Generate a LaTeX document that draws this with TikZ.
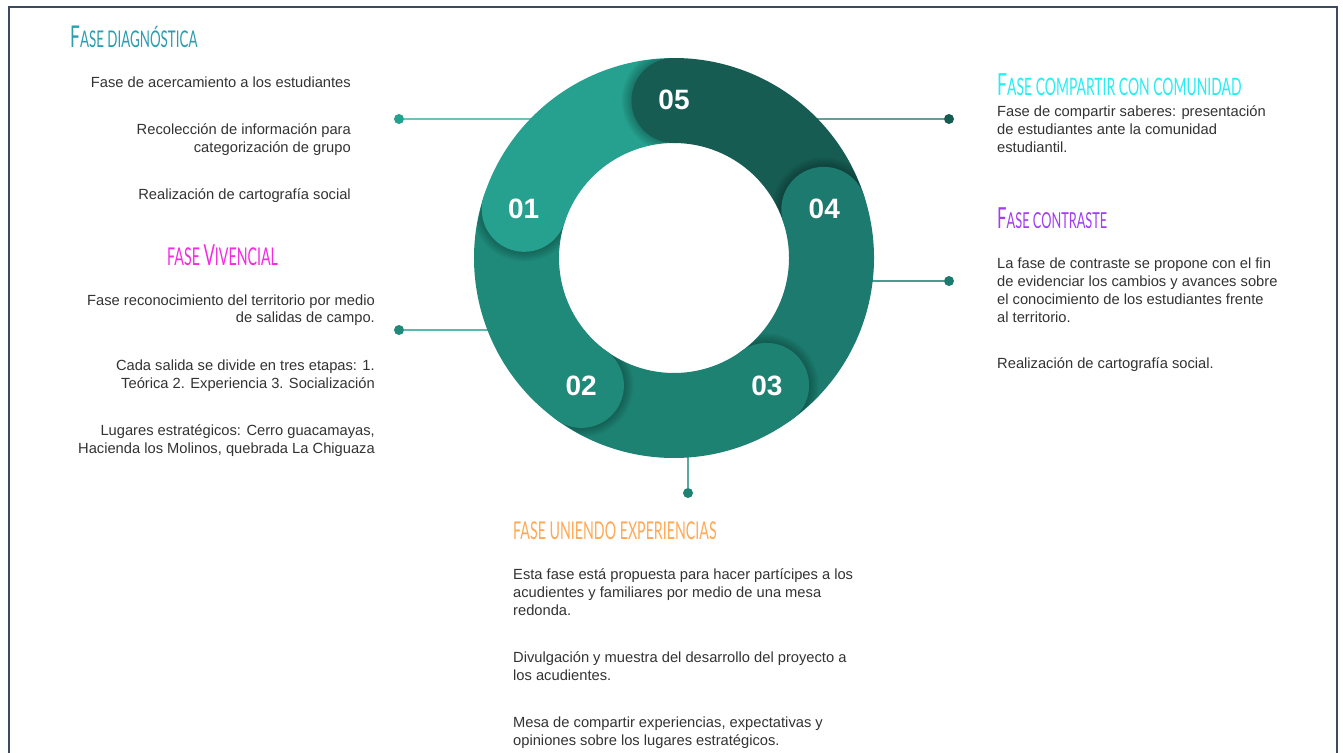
\documentclass[tikz,border=0pt]{standalone}
\usepackage{fontspec}
\setmainfont{Liberation Sans}
\newfontfamily\headfont[FakeStretch=0.58]{Lato}
\definecolor{c1}{HTML}{26A08F}
\definecolor{c2}{HTML}{1F8A7A}
\definecolor{c3}{HTML}{1E8273}
\definecolor{c4}{HTML}{1C7B6E}
\definecolor{c5}{HTML}{165C53}
\definecolor{txtcol}{HTML}{333333}
\definecolor{framecol}{HTML}{3D4B5F}
\definecolor{hdiag}{HTML}{2A9EAE}
\definecolor{hviv}{HTML}{F52BE0}
\definecolor{hcomp}{HTML}{27EEF2}
\definecolor{hcontr}{HTML}{A33CF2}
\definecolor{huni}{HTML}{FFA955}
\definecolor{lL1}{HTML}{6CC3B6}
\definecolor{lL2}{HTML}{5CB8AA}
\definecolor{lR1}{HTML}{6A9C95}
\definecolor{lR2}{HTML}{4A9A8E}
\definecolor{lB}{HTML}{5AAA9D}
\newcommand\hsz[2]{{\fontsize{#1}{#1}\selectfont #2}}
\begin{document}
\begin{tikzpicture}[x=1pt,y=-1pt,
  txt/.style={font=\fontsize{14.7}{18}\selectfont, text=txtcol, inner sep=0},
  num/.style={font=\fontsize{28}{28}\selectfont\bfseries, text=white, inner sep=0},
  dotnode/.style={circle, inner sep=0, minimum size=10pt},
  link/.style={line width=2pt},
  head/.style={font=\headfont, inner sep=0, anchor=base west}]
\useasboundingbox (0,0) rectangle (1343,752);
\fill[white] (0,0) rectangle (1343,752);
\draw[framecol, line width=2.5pt] (9,770) -- (9,7) -- (1337,7) -- (1337,770);

% connectors
\node[dotnode, fill=c1] (dL1) at (399,119) {};
\node[dotnode, fill=c2] (dL2) at (399,330) {};
\node[dotnode, fill=c5] (dR1) at (949,119) {};
\node[dotnode, fill=c4] (dR2) at (949,281) {};
\node[dotnode, fill=c3] (dB) at (688,493) {};
\coordinate (eL1) at (560,119);
\coordinate (eL2) at (520,330);
\coordinate (eR1) at (790,119);
\coordinate (eR2) at (840,281);
\coordinate (eB) at (688,430);
\draw[link, lL1] (dL1) -- (eL1);
\draw[link, lL2] (dL2) -- (eL2);
\draw[link, lR1] (dR1) -- (eR1);
\draw[link, lR2] (dR2) -- (eR2);
\draw[link, lB] (dB) -- (eB);

% ring
\begin{scope}[shift={(674,258)}, yscale=-1]
  \foreach \a/\c in {90/c5,18/c4,-54/c3,-126/c2,162/c1}{
    \fill[\c] (\a:200) arc[start angle=\a, end angle=\a-72, radius=200]
      -- ({\a-72}:115) arc[start angle=\a-72, end angle=\a, radius=115] -- cycle;
  }
  \foreach \a in {90,18,-54,-126,162}{
    \begin{scope}
      \clip (\a:199.5) arc[start angle=\a, end angle=\a+50, radius=199.5]
        -- ({\a+50}:115.5) arc[start angle=\a+50, end angle=\a, radius=115.5] -- cycle;
      \foreach \r in {43,44.5,...,52}
        \fill[black, opacity=0.04] (\a:157.5) circle[radius=\r];
    \end{scope}
  }
  \foreach \a/\c/\n in {90/c5/05,18/c4/04,-54/c3/03,-126/c2/02,162/c1/01}{
    \fill[\c] (\a:157.5) circle[radius=42.5];
    \node[num] (n\n) at (\a:158) {\n};
  }
\end{scope}

% headings
\node[head, text=hdiag] (hD) at (70,48) {\hsz{30}{F}\hsz{23}{\MakeUppercase{ase diagnóstica}}};
\node[head, text=hviv] (hV) at (167,265) {\hsz{24.5}{\MakeUppercase{fase }}\hsz{29}{V}\hsz{24.5}{\MakeUppercase{ivencial}}};
\node[head, text=hcomp] (hC) at (997,95) {\hsz{30.5}{F}\hsz{24}{\MakeUppercase{ase compartir con comunidad}}};
\node[head, text=hcontr] (hK) at (997,228) {\hsz{29}{F}\hsz{22}{\MakeUppercase{ase contraste}}};
\node[head, text=huni] (hU) at (513,539) {\hsz{24.5}{\MakeUppercase{fase uniendo experiencias}}};

% left column
\node[txt, anchor=base east] (t1a) at (351,87) {Fase de acercamiento a los estudiantes};
\node[txt, anchor=base east] (t1b) at (351,134) {Recolección de información para};
\node[txt, anchor=base east] (t1c) at (351,152) {categorización de grupo};
\node[txt, anchor=base east] (t1d) at (351,199) {Realización de cartografía social};

\node[txt, anchor=base east] (t2a) at (375,305) {Fase reconocimiento del territorio por medio};
\node[txt, anchor=base east] (t2b) at (375,322) {de salidas de campo.};
\node[txt, anchor=base east] (t2c) at (375,370) {Cada salida se divide en tres etapas: 1.};
\node[txt, anchor=base east] (t2d) at (375,388) {Teórica 2. Experiencia 3. Socialización};
\node[txt, anchor=base east] (t2e) at (375,435) {Lugares estratégicos: Cerro guacamayas,};
\node[txt, anchor=base east] (t2f) at (375,453) {Hacienda los Molinos, quebrada La Chiguaza};

% right column
\node[txt, anchor=base west] (t5a) at (997,116) {Fase de compartir saberes: presentación};
\node[txt, anchor=base west] (t5b) at (997,134) {de estudiantes ante la comunidad};
\node[txt, anchor=base west] (t5c) at (997,152) {estudiantil.};
\node[txt, anchor=base west] (t4a) at (997,268) {La fase de contraste se propone con el fin};
\node[txt, anchor=base west] (t4b) at (997,286) {de evidenciar los cambios y avances sobre};
\node[txt, anchor=base west] (t4c) at (997,304) {el conocimiento de los estudiantes frente};
\node[txt, anchor=base west] (t4d) at (997,322) {al territorio.};
\node[txt, anchor=base west] (t4e) at (997,368) {Realización de cartografía social.};

% bottom column
\node[txt, anchor=base west] (t3a) at (513,579) {Esta fase está propuesta para hacer partícipes a los};
\node[txt, anchor=base west] (t3b) at (513,597) {acudientes y familiares por medio de una mesa};
\node[txt, anchor=base west] (t3c) at (513,615) {redonda.};
\node[txt, anchor=base west] (t3d) at (513,662) {Divulgación y muestra del desarrollo del proyecto a};
\node[txt, anchor=base west] (t3e) at (513,680) {los acudientes.};
\node[txt, anchor=base west] (t3f) at (513,727) {Mesa de compartir experiencias, expectativas y};
\node[txt, anchor=base west] (t3g) at (513,745) {opiniones sobre los lugares estratégicos.};
\end{tikzpicture}
\end{document}
